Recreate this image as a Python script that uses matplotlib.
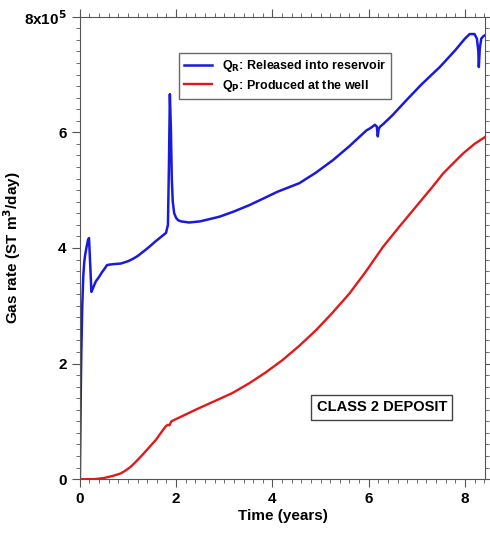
import matplotlib.pyplot as plt
from matplotlib.ticker import MultipleLocator, FuncFormatter

plt.rcParams['font.family'] = ['Liberation Sans', 'DejaVu Sans']
plt.rcParams['font.weight'] = 'bold'
plt.rcParams['mathtext.default'] = 'bf'

# Q_R: gas released into reservoir (time in years, rate in ST m3/day)
t_released = [0.0, 0.01, 0.02, 0.03, 0.05, 0.07, 0.09, 0.11, 0.14, 0.17, 0.19, 0.21, 0.24,
              0.28, 0.33, 0.40, 0.46, 0.53, 0.56, 0.60, 0.70, 0.85, 1.00, 1.10, 1.20, 1.37,
              1.47, 1.58, 1.70, 1.79, 1.83, 1.85, 1.87, 1.89, 1.91, 1.93, 1.96, 2.00,
              2.04, 2.10, 2.27, 2.50, 2.90, 3.20, 3.52, 3.80, 4.10, 4.56, 4.90, 5.26,
              5.60, 5.95, 6.05, 6.13, 6.17, 6.19, 6.21, 6.24, 6.30, 6.50, 6.79,
              7.10, 7.48, 7.80, 8.00, 8.10, 8.20, 8.25, 8.28, 8.29, 8.31, 8.34, 8.38, 8.42]
q_released = [0.0, 0.8e5, 1.6e5, 2.2e5, 3.0e5, 3.5e5, 3.75e5, 3.88e5, 4.02e5, 4.14e5, 4.17e5, 3.8e5, 3.24e5,
              3.32e5, 3.42e5, 3.5e5, 3.58e5, 3.66e5, 3.7e5, 3.71e5, 3.72e5, 3.73e5, 3.77e5, 3.81e5, 3.86e5, 3.97e5,
              4.04e5, 4.12e5, 4.2e5, 4.26e5, 4.4e5, 5.4e5, 6.66e5, 6.1e5, 5.2e5, 4.8e5, 4.6e5, 4.52e5,
              4.48e5, 4.46e5, 4.44e5, 4.46e5, 4.54e5, 4.63e5, 4.74e5, 4.85e5, 4.97e5, 5.12e5, 5.3e5, 5.52e5,
              5.76e5, 6.03e5, 6.08e5, 6.13e5, 6.1e5, 5.93e5, 6.06e5, 6.1e5, 6.14e5, 6.3e5, 6.56e5,
              6.83e5, 7.13e5, 7.42e5, 7.62e5, 7.7e5, 7.7e5, 7.62e5, 7.4e5, 7.13e5, 7.45e5, 7.62e5, 7.66e5, 7.68e5]

# Q_P: gas produced at the well
t_produced = [0.0, 0.3, 0.5, 0.6, 0.7, 0.85, 0.95, 1.05, 1.15, 1.30, 1.45, 1.58, 1.70,
              1.79, 1.83, 1.86, 1.90, 2.00, 2.20, 2.48, 2.80, 3.17, 3.52, 3.85, 4.21,
              4.55, 4.91, 5.25, 5.60, 5.95, 6.30, 6.65, 6.99, 7.30, 7.55, 7.80, 7.97, 8.20, 8.42]
q_produced = [0.0, 0.0, 0.02e5, 0.04e5, 0.06e5, 0.1e5, 0.15e5, 0.21e5, 0.29e5, 0.42e5, 0.56e5, 0.68e5, 0.82e5,
              0.92e5, 0.94e5, 0.93e5, 1.0e5, 1.04e5, 1.12e5, 1.23e5, 1.35e5, 1.49e5, 1.66e5, 1.84e5, 2.06e5,
              2.3e5, 2.58e5, 2.88e5, 3.21e5, 3.6e5, 4.02e5, 4.38e5, 4.72e5, 5.03e5, 5.29e5, 5.5e5, 5.64e5, 5.8e5, 5.92e5]

y_ticks = [0, 2e5, 4e5, 6e5, 8e5]


def y_label(v, pos):
    if abs(v - 8e5) < 1:
        return r'8x10$^{5}$'
    return '%d' % round(v / 1e5)


fig = plt.figure(figsize=(4.9, 5.39), dpi=100)
ax = fig.add_axes([0.163, 0.111, 0.827, 0.858])

ax.plot(t_released, q_released, color='#1a1adc', lw=1.8,
        label=r'Q$_R$: Released into reservoir')
ax.plot(t_produced, q_produced, color='#e01a1a', lw=1.7,
        label=r'Q$_P$: Produced at the well')

ax.set_xlim(0, 8.42)
ax.set_ylim(0, 8e5)
ax.xaxis.set_major_locator(MultipleLocator(2))
ax.xaxis.set_minor_locator(MultipleLocator(0.2))
ax.set_yticks(y_ticks)
ax.yaxis.set_minor_locator(MultipleLocator(0.2e5))
ax.yaxis.set_major_formatter(FuncFormatter(y_label))

ax.tick_params(which='both', direction='out', top=True, right=True,
               labeltop=False, labelright=False, labelsize=11, color='#555555')
ax.tick_params(which='major', length=6)
ax.tick_params(which='minor', length=3)
for s in ax.spines.values():
    s.set_color('#555555')

ax.set_xlabel('Time (years)', fontsize=11, fontweight='bold', labelpad=2)
ax.set_ylabel('Gas rate (ST m$^3$/day)', fontsize=11, fontweight='bold')
ax.yaxis.set_label_coords(-0.14, 0.5)

leg = ax.legend(loc='upper left', bbox_to_anchor=(0.23, 0.935), fontsize=9,
                frameon=True, fancybox=False, edgecolor='#444444',
                handlelength=2.2, borderpad=0.4, labelspacing=0.3)
leg.get_frame().set_linewidth(1.0)

ax.text(0.745, 0.155, 'CLASS 2 DEPOSIT', transform=ax.transAxes, fontsize=10.5,
        fontweight='bold', ha='center', va='center',
        bbox=dict(boxstyle='square,pad=0.35', fc='white', ec='#444444', lw=1.0))

fig.savefig('out.png', dpi=100)
